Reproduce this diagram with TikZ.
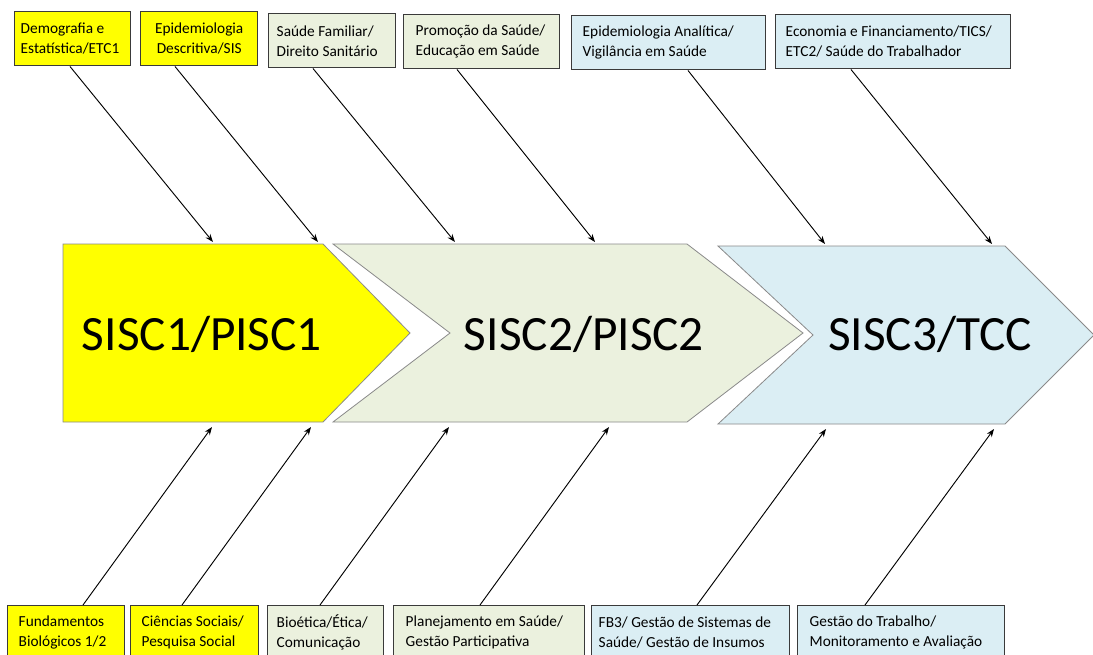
\documentclass[tikz,border=0pt]{standalone}
\usepackage{fontspec}
\setmainfont{Carlito}
\usetikzlibrary{arrows.meta}
\definecolor{ylw}{HTML}{FFFF00}
\definecolor{grn}{HTML}{EBF1DE}
\definecolor{blu}{HTML}{DBEEF4}
\definecolor{boxline}{HTML}{3A3A3A}
\definecolor{chevline}{HTML}{8A8A8A}
\begin{document}
\begin{tikzpicture}[x=0.75pt,y=-0.75pt,
  lbl/.style={rectangle, draw=boxline, line width=1.1pt, anchor=north west,
    minimum height=40.5pt, inner ysep=0pt, align=flush left,
    font=\fontsize{11.5}{15}\selectfont},
  chev/.style={draw=chevline, line width=0.6pt},
  big/.style={font=\fontsize{37}{44}\selectfont, anchor=base, inner sep=0pt},
  arr/.style={draw=black, line width=0.7pt, -{Stealth[length=6pt,width=4.5pt]}}
]
\clip (0,0) rectangle (1093,654);
\fill[white] (0,0) rectangle (1093,654);

% chevrons
\draw[chev, fill=ylw] (63,244) -- (323,244) -- (410,333) -- (323,422) -- (63,422) -- cycle;
\draw[chev, fill=grn] (333,244) -- (687,244) -- (803,333) -- (687,422) -- (333,422) -- (450,333) -- cycle;
\draw[chev, fill=blu] (718,246) -- (1005,246) -- (1094,335) -- (1005,424) -- (718,424) -- (813,335) -- cycle;

\node[big] (s1) at (202,350) {SISC1/PISC1};
\node[big] (s2) at (584,350) {SISC2/PISC2};
\node[big] (s3) at (930,350) {SISC3/TCC};

% top boxes
\node[lbl, fill=ylw, text width=78pt, inner xsep=4.5pt] (t1) at (14,11) {Demografia~e\\Estatística/ETC1};
\node[lbl, fill=ylw, text width=78.75pt, inner xsep=4.5pt, align=center] (t2) at (140,11) {Epidemiologia\\Descritiva/SIS};
\node[lbl, fill=grn, text width=83.25pt, inner xsep=6pt] (t3) at (268,13) {Saúde~Familiar/\\Direito~Sanitário};
\node[lbl, fill=grn, text width=99pt, inner xsep=9pt] (t4) at (403,14) {Promoção~da~Saúde/\\Educação~em~Saúde};
\node[lbl, fill=blu, text width=129pt, inner xsep=8.25pt] (t5) at (571,15) {Epidemiologia~Analítica/\\Vigilância~em~Saúde};
\node[lbl, fill=blu, text width=161.25pt, inner xsep=7.5pt] (t6) at (775,14) {Economia~e~Financiamento/TICS/\\ETC2/~Saúde~do~Trabalhador};

% bottom boxes
\node[lbl, fill=ylw, text width=71.25pt, inner xsep=8.25pt] (b1) at (7,605) {Fundamentos\\Biológicos~1/2};
\node[lbl, fill=ylw, text width=79.5pt, inner xsep=8.25pt] (b2) at (130,605) {Ciências~Sociais/\\Pesquisa~Social};
\node[lbl, fill=grn, text width=73.5pt, inner xsep=6.75pt] (b3) at (267,605) {Bioética/Ética/\\Comunicação};
\node[lbl, fill=grn, text width=125.25pt, inner xsep=9pt] (b4) at (393,605) {Planejamento~em~Saúde/\\Gestão~Participativa};
\node[lbl, fill=blu, text width=138pt, inner xsep=5.25pt] (b5) at (591,605) {FB3/~Gestão~de~Sistemas~de\\Saúde/~Gestão~de~Insumos};
\node[lbl, fill=blu, text width=137.25pt, inner xsep=9pt] (b6) at (797,605) {Gestão~do~Trabalho/\\Monitoramento~e~Avaliação};

% arrow end points on the chevrons
\coordinate (e1) at (213,242);
\coordinate (e2) at (318,242);
\coordinate (e3) at (455,242);
\coordinate (e4) at (595,242);
\coordinate (e5) at (825,244);
\coordinate (e6) at (992,244);
\coordinate (f1) at (212,427);
\coordinate (f2) at (311,427);
\coordinate (f3) at (449,427);
\coordinate (f4) at (609,427);
\coordinate (f5) at (826,429);
\coordinate (f6) at (994,429);

\draw[arr] ([xshift=42pt]t1.south west) -- (e1);
\draw[arr] ([xshift=26.25pt]t2.south west) -- (e2);
\draw[arr] ([xshift=33.75pt]t3.south west) -- (e3);
\draw[arr] ([xshift=40.5pt]t4.south west) -- (e4);
\draw[arr] ([xshift=87.75pt]t5.south west) -- (e5);
\draw[arr] ([xshift=57pt]t6.south west) -- (e6);

\draw[arr] ([xshift=57pt]b1.north west) -- (f1);
\draw[arr] ([xshift=39pt]b2.north west) -- (f2);
\draw[arr] ([xshift=39.75pt]b3.north west) -- (f3);
\draw[arr] ([xshift=65.25pt]b4.north west) -- (f4);
\draw[arr] ([xshift=79.5pt]b5.north west) -- (f5);
\draw[arr] ([xshift=51pt]b6.north west) -- (f6);
\end{tikzpicture}
\end{document}
